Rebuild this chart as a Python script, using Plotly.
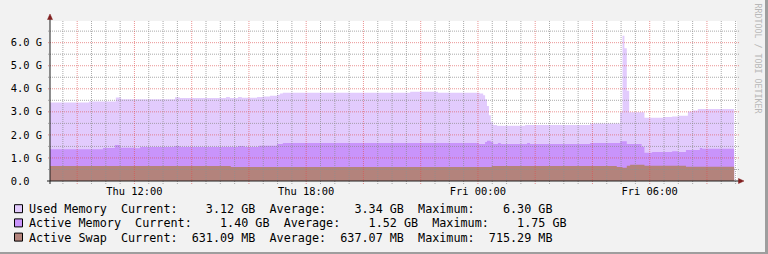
import plotly.graph_objects as go
from datetime import datetime, timedelta

# ---------------- data ----------------
DAY = {"Thu": "2014-01-16", "Fri": "2014-01-17"}

used_t = ["Thu 09:03", "Thu 10:25", "Thu 11:21", "Thu 11:32", "Thu 13:25", "Thu 13:35",
          "Thu 15:12", "Thu 15:20", "Thu 15:37", "Thu 15:45", "Thu 16:17", "Thu 16:29",
          "Thu 16:44", "Thu 16:59", "Thu 17:05", "Thu 17:11", "Thu 21:38", "Thu 22:36",
          "Fri 00:04", "Fri 00:11", "Fri 00:15", "Fri 00:19", "Fri 00:23", "Fri 00:27",
          "Fri 00:32", "Fri 00:40", "Fri 01:39", "Fri 03:55", "Fri 04:58", "Fri 05:03",
          "Fri 05:07", "Fri 05:12", "Fri 05:17", "Fri 05:49", "Fri 06:28", "Fri 06:47",
          "Fri 07:01", "Fri 07:20", "Fri 07:29", "Fri 07:41", "Fri 08:57"]
used_v = [3.41, 3.45, 3.62, 3.55, 3.63, 3.60,
          3.64, 3.60, 3.64, 3.61, 3.64, 3.66,
          3.70, 3.74, 3.79, 3.83, 3.87, 3.83,
          3.79, 3.72, 3.55, 3.25, 2.85, 2.55,
          2.43, 2.40, 2.43, 2.49, 2.98, 6.30,
          5.76, 3.92, 2.98, 2.74, 2.78, 2.80,
          2.83, 3.01, 3.06, 3.12, 3.12]

active_t = ["Thu 09:03", "Thu 10:54", "Thu 11:19", "Thu 11:30", "Thu 12:01", "Thu 12:12",
            "Thu 13:25", "Thu 13:35", "Thu 15:37", "Thu 15:50", "Thu 16:21", "Thu 16:59",
            "Thu 17:11", "Fri 00:02", "Fri 00:15", "Fri 00:19", "Fri 00:27", "Fri 00:32",
            "Fri 00:42", "Fri 00:48", "Fri 01:43", "Fri 01:49", "Fri 03:55", "Fri 04:58",
            "Fri 05:12", "Fri 05:43", "Fri 05:49", "Fri 06:05", "Fri 06:47", "Fri 06:59",
            "Fri 07:16", "Fri 07:45", "Fri 07:50", "Fri 08:57"]
active_v = [1.38, 1.43, 1.56, 1.44, 1.42, 1.47,
            1.52, 1.47, 1.52, 1.47, 1.53, 1.60,
            1.65, 1.61, 1.69, 1.75, 1.69, 1.60,
            1.65, 1.61, 1.65, 1.61, 1.65, 1.72,
            1.61, 1.49, 1.23, 1.26, 1.29, 1.26,
            1.34, 1.43, 1.40, 1.40]

swap_t = ["Thu 09:03", "Thu 15:22", "Fri 00:29", "Fri 04:51", "Fri 05:03", "Fri 05:12",
          "Fri 05:19", "Fri 05:49", "Fri 07:16", "Fri 08:57"]
swap_v = [0.65, 0.61, 0.65, 0.61, 0.58, 0.66, 0.70, 0.66, 0.62, 0.62]

y_tickvals = [0, 1, 2, 3, 4, 5, 6]
y_ticktext = ["0.0\u00a0\u00a0", "1.0 G", "2.0 G", "3.0 G", "4.0 G", "5.0 G", "6.0 G"]

legend_names = ["Used Memory", "Active Memory", "Active Swap"]
legend_cur = ["3.12 GB", "1.40 GB", "631.09 MB"]
legend_avg = ["3.34 GB", "1.52 GB", "637.07 MB"]
legend_max = ["6.30 GB", "1.75 GB", "715.29 MB"]

colors = ["#E2CBFD", "#C994FB", "#B3837C"]

X_START = "2014-01-16 09:03"
X_END = "2014-01-17 09:03"
Y_MAX = 6.94

# ---------------- helpers ----------------
def ts(s):
    d, hm = s.split()
    return DAY[d] + " " + hm

W, H = 768, 254
ML, MR, MT, MB = 50, 31, 21, 73
PW, PH = W - ML - MR, H - MT - MB

def px(X):   # pixel x -> paper x
    return (X - ML) / PW

def py(Y):   # pixel y -> paper y
    return (H - MB - Y) / PH

FONT = "DejaVu Sans Mono"

fig = go.Figure()
for t, v, c, n in [(used_t, used_v, colors[0], legend_names[0]),
                   (active_t, active_v, colors[1], legend_names[1]),
                   (swap_t, swap_v, colors[2], legend_names[2])]:
    fig.add_trace(go.Scatter(
        x=[ts(s) for s in t], y=v, mode="lines", name=n,
        line=dict(width=0, color=c, shape="hv"),
        fill="tozeroy", fillcolor=c, showlegend=False, hoverinfo="skip"))

shapes = []
# grid (drawn above the areas, like rrdtool)
GRID = "rgba(143,143,143,0.75)"
MGRID = "rgba(222,79,79,0.6)"
ext_x = 2 / PW
ext_y = 3 / PH
# horizontal
hlines_minor, hlines_major = [], []
k = 1
while k * 0.5 < Y_MAX:
    (hlines_major if k % 2 == 0 else hlines_minor).append(k * 0.5)
    k += 1
for yv in hlines_minor:
    shapes.append(dict(type="line", xref="paper", yref="y", x0=-ext_x, x1=1 + ext_x,
                       y0=yv, y1=yv, layer="above",
                       line=dict(color=GRID, width=1, dash="1px,1px")))
# vertical
t0 = datetime(2014, 1, 16, 9, 30)
t_end = datetime(2014, 1, 17, 9, 3)
vmin, vmaj = [], []
t = t0
while t <= t_end:
    if t.minute == 0 and t.hour % 2 == 0:
        vmaj.append(t)
    else:
        vmin.append(t)
    t += timedelta(minutes=30)
for tt in vmin:
    s = tt.strftime("%Y-%m-%d %H:%M")
    shapes.append(dict(type="line", xref="x", yref="paper", x0=s, x1=s,
                       y0=-ext_y, y1=1, layer="above",
                       line=dict(color=GRID, width=1, dash="1px,1px")))
for yv in hlines_major:
    shapes.append(dict(type="line", xref="paper", yref="y", x0=-ext_x, x1=1 + ext_x,
                       y0=yv, y1=yv, layer="above",
                       line=dict(color=MGRID, width=1, dash="1px,1px")))
for tt in vmaj:
    s = tt.strftime("%Y-%m-%d %H:%M")
    shapes.append(dict(type="line", xref="x", yref="paper", x0=s, x1=s,
                       y0=-ext_y, y1=1, layer="above",
                       line=dict(color=MGRID, width=1, dash="1px,1px")))

AXIS = "#1F1F1F"
ARROW = "#801F1F"
# axis lines
shapes.append(dict(type="line", xref="paper", yref="paper", x0=0, x1=0,
                   y0=py(184), y1=py(18), layer="above", line=dict(color=AXIS, width=1)))
shapes.append(dict(type="line", xref="paper", yref="paper", x0=px(47), x1=px(740),
                   y0=0, y1=0, layer="above", line=dict(color=AXIS, width=1)))
# arrows
shapes.append(dict(type="path", xref="paper", yref="paper", layer="above",
                   path=f"M {px(47.5)},{py(19.5)} L {px(52.5)},{py(19.5)} L {px(50)},{py(14)} Z",
                   fillcolor=ARROW, line=dict(color=ARROW, width=0.5)))
shapes.append(dict(type="path", xref="paper", yref="paper", layer="above",
                   path=f"M {px(738.5)},{py(178.5)} L {px(738.5)},{py(183.5)} L {px(744)},{py(181)} Z",
                   fillcolor=ARROW, line=dict(color=ARROW, width=0.5)))
# frame (rrdtool shade)
shapes.append(dict(type="rect", xref="paper", yref="paper", layer="above",
                   x0=px(765), x1=px(769), y0=py(255), y1=py(-1),
                   fillcolor="#9E9E9E", line=dict(width=0)))
shapes.append(dict(type="rect", xref="paper", yref="paper", layer="above",
                   x0=px(-1), x1=px(769), y0=py(255), y1=py(252),
                   fillcolor="#9E9E9E", line=dict(width=0)))

# legend swatches + text
annotations = []
for i, (n, c, a, m) in enumerate(zip(legend_names, legend_cur, legend_avg, legend_max)):
    yc = 208.7 + 14.2 * i
    shapes.append(dict(type="rect", xref="paper", yref="paper", layer="above",
                       x0=px(14.5), x1=px(22.5), y0=py(yc + 4), y1=py(yc - 4),
                       fillcolor=colors[i], line=dict(color="#000000", width=1)))
    txt = f"{n}  Current:{c:>11}  Average:{a:>11}  Maximum:{m:>11}".replace(" ", "\u00a0")
    annotations.append(dict(xref="paper", yref="paper", x=px(27.3), y=py(yc + 0.5),
                            xanchor="left", yanchor="middle", showarrow=False,
                            text=txt, font=dict(family=FONT, size=11.75, color="#000000")))

annotations.append(dict(xref="paper", yref="paper", x=px(757.5), y=py(58),
                        xanchor="center", yanchor="middle", showarrow=False,
                        text="RRDTOOL / TOBI OETIKER", textangle=90,
                        font=dict(family=FONT, size=8.3, color="#B8B8B8")))

fig.update_layout(
    width=W, height=H, autosize=False,
    margin=dict(l=ML, r=MR, t=MT, b=MB, pad=0),
    paper_bgcolor="#F2F2F2", plot_bgcolor="#FFFFFF",
    xaxis=dict(type="date", range=[X_START, X_END], tickformat="%a %H:%M",
               tick0="2014-01-16 00:00", dtick=6 * 3600 * 1000,
               showgrid=False, zeroline=False, showline=False, ticks="",
               ticklabelstandoff=3,
               tickfont=dict(family=FONT, size=10.4, color="#000000")),
    yaxis=dict(range=[0, Y_MAX], tickvals=y_tickvals, ticktext=y_ticktext,
               showgrid=False, zeroline=False, showline=False, ticks="",
               ticklabelstandoff=7,
               tickfont=dict(family=FONT, size=10.4, color="#000000")),
    shapes=shapes, annotations=annotations, showlegend=False,
)

fig.write_html("out.html")
